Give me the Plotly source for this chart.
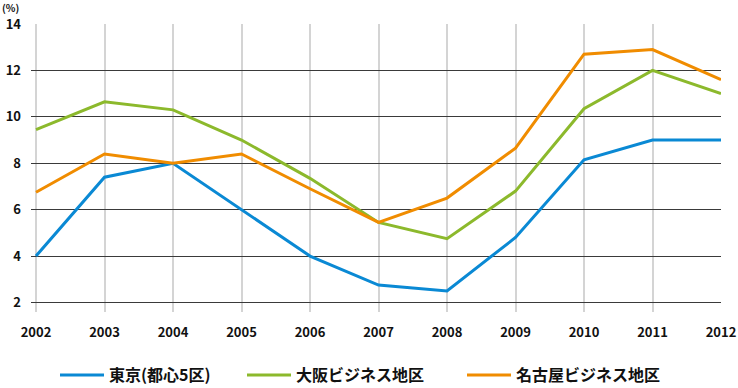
import plotly.graph_objects as go

years = list(range(2002, 2013))
tokyo = [4.0, 7.4, 8.0, 6.0, 4.0, 2.75, 2.5, 4.8, 8.15, 9.0, 9.0]
osaka = [9.45, 10.65, 10.3, 9.0, 7.35, 5.45, 4.75, 6.8, 10.35, 12.0, 11.0]
nagoya = [6.75, 8.4, 8.0, 8.4, 6.9, 5.45, 6.5, 8.65, 12.7, 12.9, 11.6]
names = ["東京(都心5区)", "大阪ビジネス地区", "名古屋ビジネス地区"]
colors = ["#0A89D4", "#8CB92C", "#F08C00"]
y_ticks = [2, 4, 6, 8, 10, 12, 14]

FONT = "Noto Sans CJK JP"
legend_ids = ["legend", "legend2", "legend3"]
legend_x = [55, 242, 462]

fig = go.Figure()
for vals, name, col, lid in zip([tokyo, osaka, nagoya], names, colors, legend_ids):
    fig.add_trace(go.Scatter(x=years, y=vals, mode="lines", name=name, legend=lid,
                             line=dict(color=col, width=3)))

layout_legends = {}
for lid, lx in zip(legend_ids, legend_x):
    layout_legends[lid] = dict(orientation="h", x=lx / 738, xanchor="left", xref="container",
                               y=1 - 375 / 388, yanchor="middle", yref="container",
                               font=dict(size=16, family=FONT, weight=700, color="#111"),
                               itemwidth=44, bgcolor="rgba(0,0,0,0)")

fig.update_layout(
    width=738, height=388,
    margin=dict(l=31, r=17, t=24, b=76, autoexpand=False),
    paper_bgcolor="white", plot_bgcolor="white",
    font=dict(family=FONT, color="#111"),
    showlegend=True,
    **layout_legends,
    xaxis=dict(range=[2001.927, 2012], tickvals=years, ticktext=[str(y) for y in years],
               showgrid=True, gridcolor="#d4d4d4", gridwidth=1.5, zeroline=False,
               showline=False, ticks="", ticklabelstandoff=11, automargin=False,
               tickfont=dict(size=13, family=FONT, weight=600, color="#111"), fixedrange=True),
    yaxis=dict(range=[1.59, 14], tickvals=y_ticks, showgrid=True, gridcolor="#3a3a3a",
               gridwidth=1, zeroline=False, showline=False, ticks="", ticklabelstandoff=9,
               automargin=False,
               tickfont=dict(size=13, family=FONT, weight=600, color="#111"), fixedrange=True),
)
fig.add_annotation(text="(%)", xref="paper", yref="paper", x=-31/690, y=1,
                   xanchor="left", yanchor="bottom", yshift=7, showarrow=False,
                   font=dict(size=10, family=FONT, weight=600, color="#111"))

fig.write_html("out.html", config={"displayModeBar": False},
               post_script="document.body.style.margin='0';document.body.style.overflow='hidden';")
